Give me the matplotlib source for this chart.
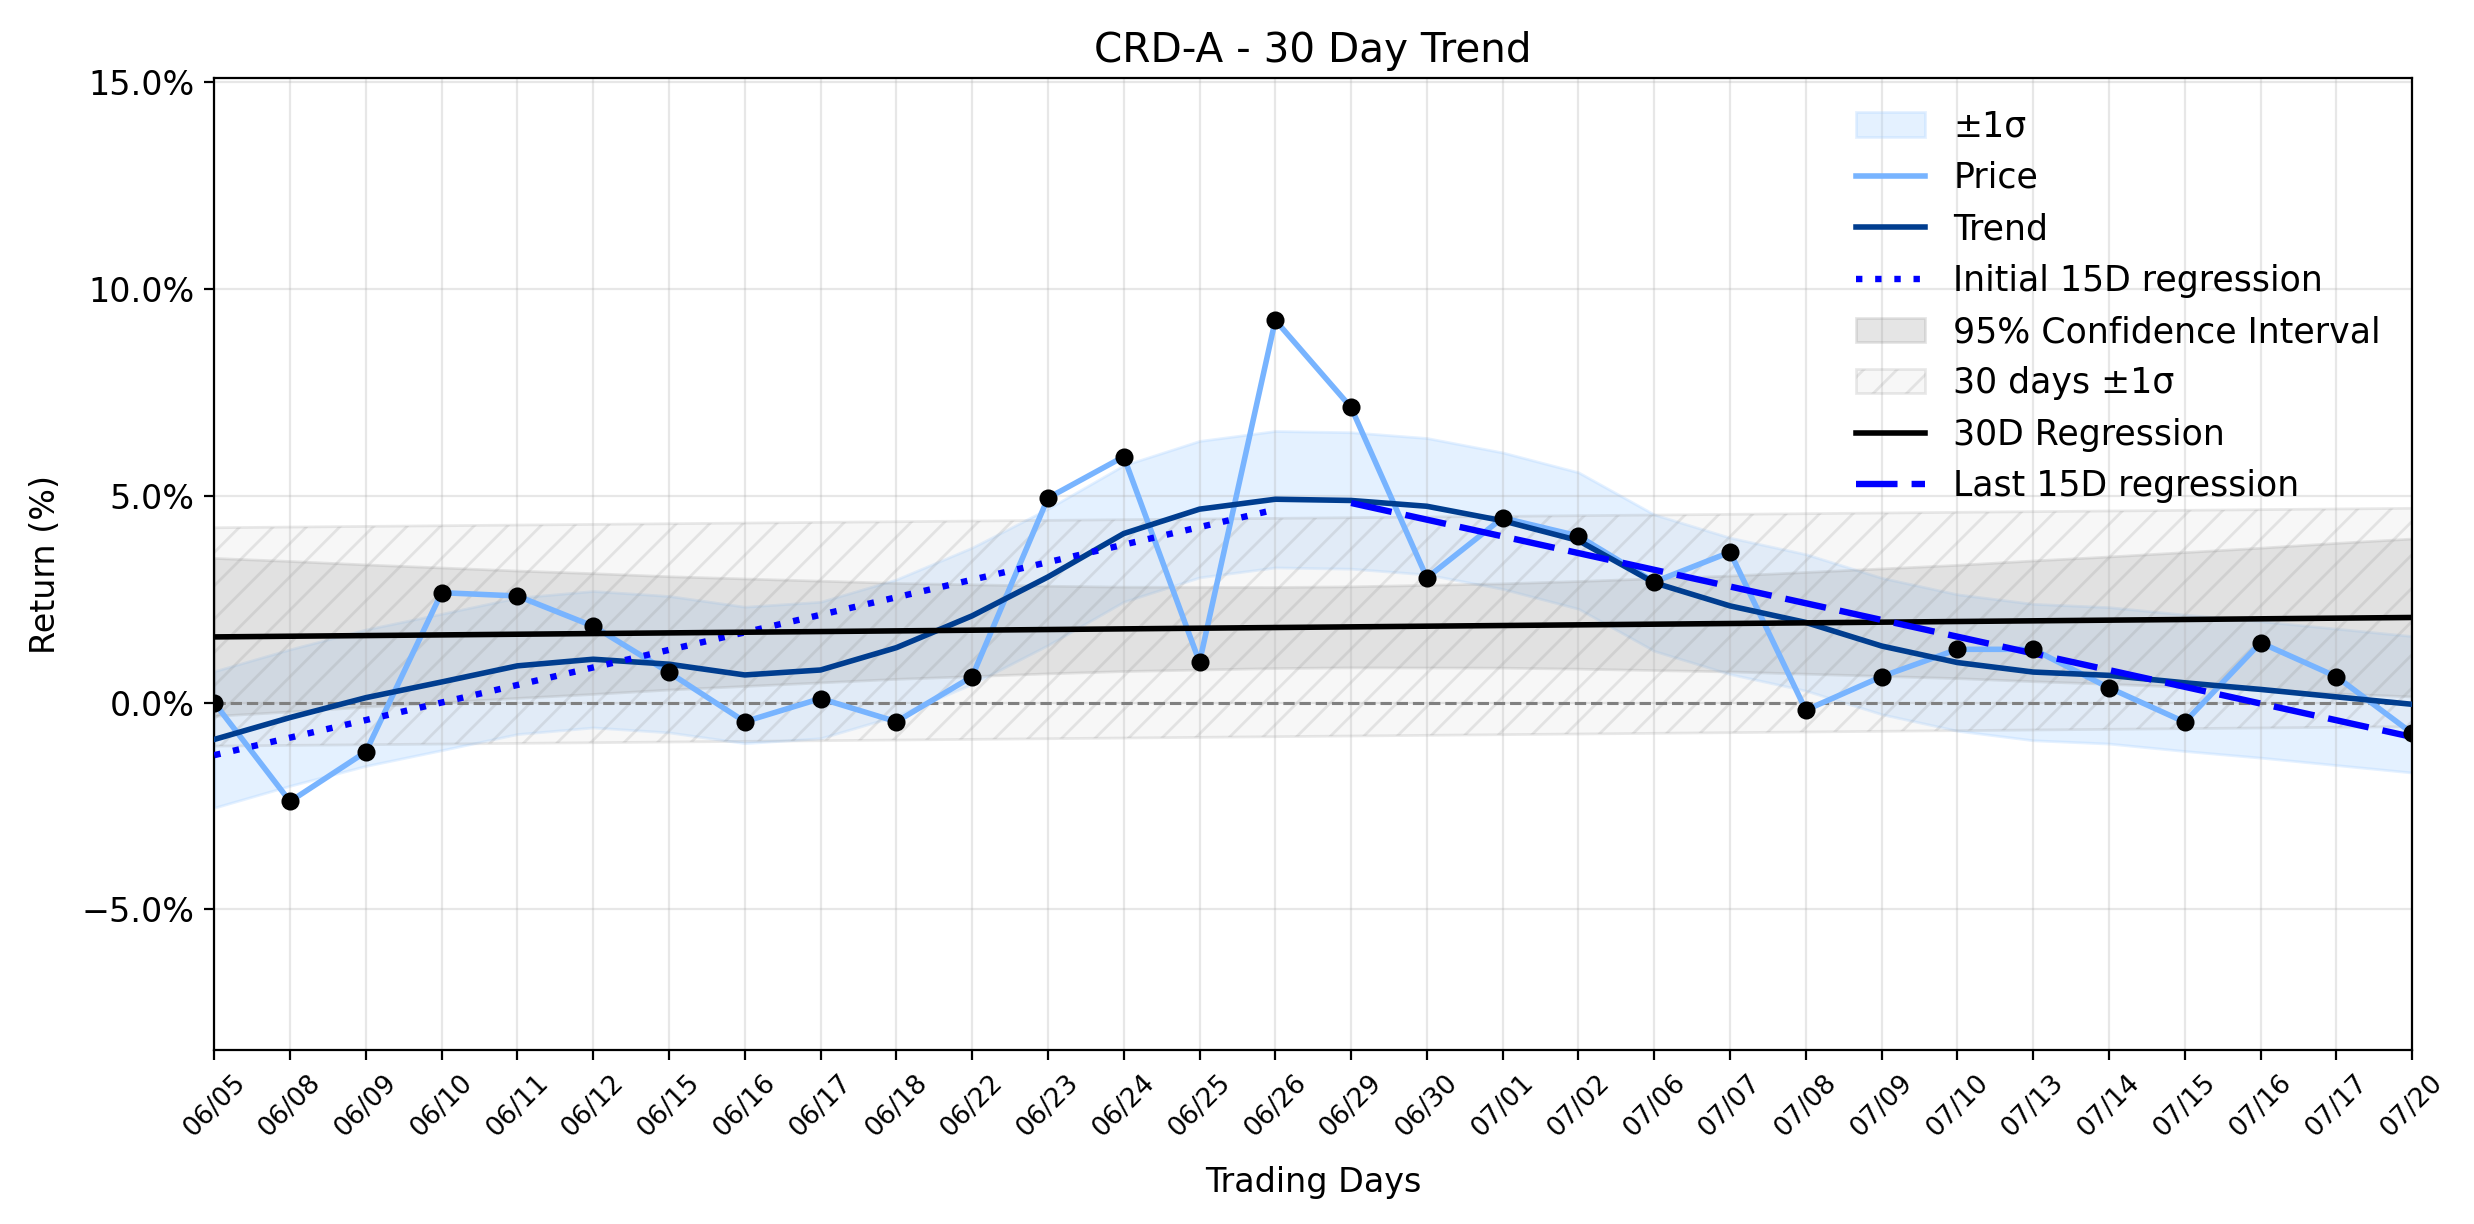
import matplotlib
matplotlib.use("Agg")
import matplotlib.pyplot as plt
import numpy as np
from matplotlib.ticker import FuncFormatter

dates = ["06/05", "06/08", "06/09", "06/10", "06/11", "06/12", "06/15", "06/16",
         "06/17", "06/18", "06/22", "06/23", "06/24", "06/25", "06/26", "06/29",
         "06/30", "07/01", "07/02", "07/06", "07/07", "07/08", "07/09", "07/10",
         "07/13", "07/14", "07/15", "07/16", "07/17", "07/20"]

price = [0.00, -2.39, -1.19, 2.66, 2.58, 1.85, 0.73, -0.46, 0.10, -0.46,
         0.63, 4.95, 5.95, 0.98, 9.25, 7.14, 3.02, 4.47, 4.03, 2.92,
         3.64, -0.18, 0.63, 1.29, 1.29, 0.36, -0.47, 1.45, 0.63, -0.74]

trend = [-0.89, -0.36, 0.12, 0.50, 0.89, 1.05, 0.93, 0.67, 0.79, 1.33,
         2.10, 3.04, 4.09, 4.68, 4.92, 4.89, 4.75, 4.40, 3.92, 2.90,
         2.34, 1.94, 1.37, 0.97, 0.74, 0.66, 0.48, 0.32, 0.14, -0.04]

trend_sigma = 1.65

reg30_x = [0, 29]
reg30_y = [1.59, 2.06]

ci_halfwidth = [1.91, 1.82, 1.72, 1.63, 1.54, 1.46, 1.37, 1.30, 1.23, 1.16,
                1.11, 1.06, 1.02, 1.00, 0.98, 0.98, 1.00, 1.02, 1.06, 1.11,
                1.16, 1.23, 1.30, 1.37, 1.46, 1.54, 1.63, 1.72, 1.82, 1.91]

sigma30 = 2.64

init15_x = [0, 14]
init15_y = [-1.27, 4.67]

last15_x = [15, 29]
last15_y = [4.83, -0.83]

title = "CRD-A - 30 Day Trend"

x = np.arange(len(dates))
trend_a = np.array(trend)
reg30_line = np.interp(x, reg30_x, reg30_y)
ci_a = np.array(ci_halfwidth)

plt.rcParams["font.size"] = 12

fig = plt.figure(figsize=(12.37, 6.12), dpi=200)
ax = fig.add_axes([0.0866, 0.1422, 0.9884 - 0.0866 - 0.0134, 0.936 - 0.1422])

ax.fill_between(x, trend_a - trend_sigma, trend_a + trend_sigma,
                color="#a8d1ff", alpha=0.3, label="±1σ", zorder=1)
ax.plot(x, price, color="#78b4ff", lw=2, label="Price", zorder=3)
ax.plot(x, price, "o", color="black", ms=5.5, zorder=5)
ax.plot(x, trend, color="#003d8f", lw=2, label="Trend", zorder=4)
ax.plot(init15_x, init15_y, color="blue", lw=2.3, ls=(0, (1, 2)),
        label="Initial 15D regression", zorder=4)
ax.fill_between(x, reg30_line - ci_a, reg30_line + ci_a, color="gray",
                alpha=0.2, label="95% Confidence Interval", zorder=1)
ax.fill_between(x, reg30_line - sigma30, reg30_line + sigma30,
                facecolor="lightgray", edgecolor="gray", alpha=0.17,
                hatch="//", label="30 days ±1σ", zorder=1)
ax.plot(reg30_x, reg30_y, color="black", lw=2, label="30D Regression", zorder=4)
ax.plot(last15_x, last15_y, color="blue", lw=2.3, ls=(0, (6.5, 2.2)),
        label="Last 15D regression", zorder=4)
ax.axhline(0, color="gray", ls="--", lw=1.1, zorder=2)

ax.set_xlim(0, len(dates) - 1)
ax.set_ylim(-8.4, 15.1)
ax.set_yticks([-5, 0, 5, 10, 15])
ax.yaxis.set_major_formatter(
    FuncFormatter(lambda v, p: f"{v:.1f}%".replace("-", "\u2212")))
ax.set_xticks(x)
ax.set_xticklabels(dates, rotation=45, fontsize=9.5)
ax.tick_params(axis="y", labelsize=12)
ax.grid(True, alpha=0.3)
ax.set_title(title, fontsize=14.6)
ax.set_xlabel("Trading Days", fontsize=12, labelpad=9)
ax.set_ylabel("Return (%)", fontsize=12, labelpad=7)
ax.legend(loc="upper right", frameon=False, fontsize=12.5, labelspacing=0.5)

fig.savefig("out.png", dpi=200)
